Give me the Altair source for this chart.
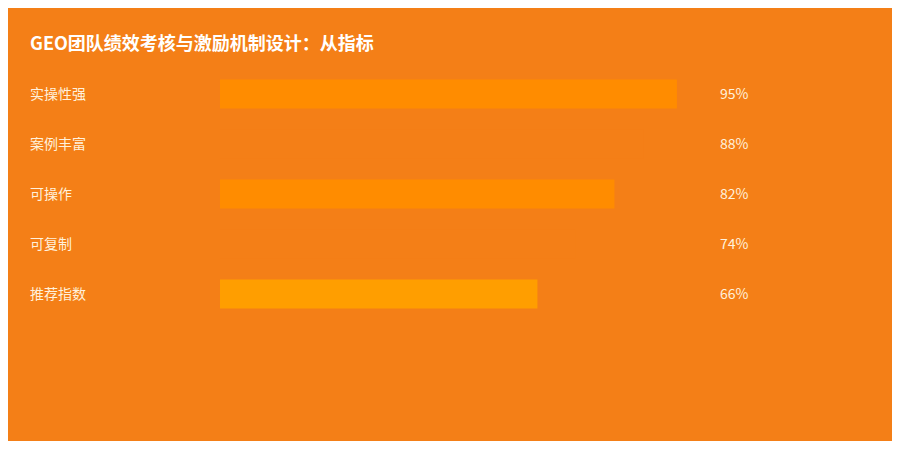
import altair as alt
import pandas as pd

categories = ["实操性强", "案例丰富", "可操作", "可复制", "推荐指数"]
values = [95, 88, 82, 74, 66]
value_labels = ["95%", "88%", "82%", "74%", "66%"]
bar_colors = ["#FF8C00", "#F47F17", "#FF8C00", "#F47F17", "#FF9E00"]

BG = "#F47F17"
FONT = "Noto Sans CJK SC"

df = pd.DataFrame({
    "cat": categories,
    "value": values,
    "label": value_labels,
    "color": bar_colors,
})

y_enc = alt.Y("cat:N", sort=categories, axis=None,
              scale=alt.Scale(paddingInner=0.42, paddingOuter=0.21))

bars = alt.Chart(df).mark_bar(cornerRadius=0).encode(
    x=alt.X("value:Q", scale=alt.Scale(domain=[0, 100]), axis=None),
    y=y_enc,
    color=alt.Color("color:N", scale=None, legend=None),
)

cat_text = alt.Chart(df).mark_text(
    align="left", baseline="middle", font=FONT, fontSize=14, color="#FFF1DC", dy=1
).encode(
    x=alt.value(-190),
    y=y_enc,
    text="cat:N",
)

val_text = alt.Chart(df).mark_text(
    align="left", baseline="middle", font=FONT, fontSize=14, color="#FFF1DC", dy=1
).encode(
    x=alt.value(500),
    y=y_enc,
    text="label:N",
)

chart = alt.layer(bars, cat_text, val_text).properties(
    width=481,
    height=250,
    title=alt.TitleParams(
        "GEO团队绩效考核与激励机制设计：从指标",
        anchor="start",
        font=FONT,
        fontSize=18,
        fontWeight="bold",
        color="#FFFFFF",
        offset=15,
    ),
    autosize=alt.AutoSizeParams(type="none"),
    padding={"left": 212, "top": 61, "right": 191, "bottom": 122},
).configure(
    background=BG,
).configure_view(
    stroke=None,
)

chart.save("out.html", embed_options={"renderer": "svg", "actions": False})
